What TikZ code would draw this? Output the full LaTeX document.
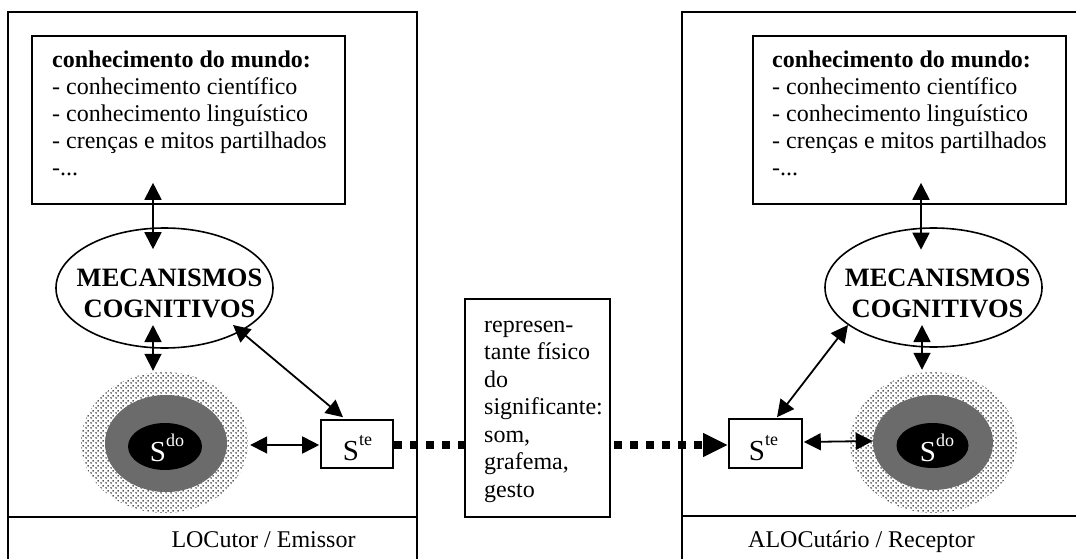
\documentclass[tikz,border=0pt]{standalone}
\usepackage{fontspec}
\setmainfont{Liberation Serif}
\usetikzlibrary{arrows.meta,shapes.geometric,calc,patterns}
\pgfdeclarepatternformonly{sdots}{\pgfqpoint{0pt}{0pt}}{\pgfqpoint{5pt}{5pt}}{\pgfqpoint{5pt}{5pt}}{%
  \pgfpathcircle{\pgfqpoint{1.25pt}{1.25pt}}{1pt}%
  \pgfpathcircle{\pgfqpoint{3.75pt}{3.75pt}}{1pt}%
  \pgfusepath{fill}}
\newcommand\mytxt{\fontsize{24}{27}\selectfont}
\newcommand\mymid{\fontsize{24}{27.5}\selectfont}
\newcommand\mymec{\fontsize{26.5}{31}\selectfont\bfseries}
\newcommand\mylab{\fontsize{24}{27}\selectfont}
\newcommand\bigS[1]{{\fontsize{29}{29}\selectfont S\raisebox{15pt}{\fontsize{18}{18}\selectfont #1}}}
\begin{document}
\begin{tikzpicture}[x=1pt,y=-1pt,
  frame/.style={line width=1.6pt},
  box/.style={draw, line width=1.6pt, inner sep=0pt, rectangle},
  ell/.style={draw, line width=1.6pt, ellipse, inner sep=0pt},
  blob/.style={ellipse, inner sep=0pt},
  txt/.style={inner sep=0pt, align=left},
  dbl/.style={{Triangle[length=17pt,width=17pt]}-{Triangle[length=17pt,width=17pt]}, line width=1.8pt},
  dotline/.style={line width=8pt, dash pattern=on 8pt off 8pt}]
\useasboundingbox (0,0) rectangle (1076,559);
\begin{scope}
\clip (0,0) rectangle (1076,559);
\draw[frame] (8,575) -- (8,12) -- (417,12) -- (417,575);
\draw[frame] (8,517) -- (417,517);
\draw[frame] (682,575) -- (682,12) -- (1095,12);
\draw[frame] (682,516) -- (1095,516);
\end{scope}
% labels
\node[anchor=base, inner sep=0pt, font=\mylab] (labL) at (263.5,547) {LOCutor / Emissor};
\node[anchor=base, inner sep=0pt, font=\mylab] (labR) at (861.5,547) {ALOCutário / Receptor};
% knowledge boxes
\node[box, minimum width=313pt, minimum height=168pt] (kbL) at (188.5,120) {};
\node[txt, anchor=north west, font=\mytxt] (kbLt) at (52,48.1) {\strut\textbf{conhecimento do mundo:}\\- conhecimento científico\\- conhecimento linguístico\\- crenças e mitos partilhados\\-...};
\node[box, minimum width=313pt, minimum height=168pt] (kbR) at (909.5,120) {};
\node[txt, anchor=north west, font=\mytxt] (kbRt) at (772,48.1) {\strut\textbf{conhecimento do mundo:}\\- conhecimento científico\\- conhecimento linguístico\\- crenças e mitos partilhados\\-...};
% ellipses
\node[ell, minimum width=217pt, minimum height=120pt] (mecL) at (164.5,288) {};
\node[inner sep=0pt, align=center, anchor=north, font=\mymec] (mecLt) at (169.5,264.3) {\strut MECANISMOS\\COGNITIVOS};
\node[ell, minimum width=217pt, minimum height=119pt] (mecR) at (933.5,287.5) {};
\node[inner sep=0pt, align=center, anchor=north, font=\mymec] (mecRt) at (937.5,264.3) {\strut MECANISMOS\\COGNITIVOS};
% significado blobs
\node[blob, pattern=sdots, pattern color=black!90, minimum width=167pt, minimum height=141pt] (sdoLo) at (164.5,442.5) {};
\node[blob, fill=black!58, minimum width=122pt, minimum height=97pt] (sdoLg) at (166,443.5) {};
\node[blob, fill=black, minimum width=74pt, minimum height=47pt] (sdoLb) at (165,446.5) {};
\node[anchor=base, inner sep=0pt, text=white] (sdoLt) at (167,461) {\bigS{do}};
\node[blob, pattern=sdots, pattern color=black!90, minimum width=167pt, minimum height=141pt] (sdoRo) at (933.5,442.5) {};
\node[blob, fill=black!58, minimum width=120pt, minimum height=95pt] (sdoRg) at (933,442.5) {};
\node[blob, fill=black, minimum width=72pt, minimum height=45pt] (sdoRb) at (932.5,445.5) {};
\node[anchor=base, inner sep=0pt, text=white] (sdoRt) at (937,461) {\bigS{do}};
% significante boxes
\node[box, fill=white, minimum width=72pt, minimum height=48pt] (SteL) at (357,444) {};
\node[anchor=base, inner sep=0pt] (SteLt) at (357.5,460) {\bigS{te}};
\node[box, fill=white, minimum width=73pt, minimum height=49pt] (SteR) at (765.5,443.5) {};
\node[anchor=base, inner sep=0pt] (SteRt) at (763.5,460) {\bigS{te}};
% middle box
\node[box, minimum width=145pt, minimum height=218pt] (mid) at (537.5,408) {};
\node[txt, anchor=north west, font=\mymid] (midt) at (484,312.75) {\strut represen-\\tante físico\\do\\significante:\\som,\\grafema,\\gesto};
% arrows
\draw[dbl] ($(kbL.south)+(-35.5,-22)$) -- ($(mecL.north)+(-11.5,22)$);
\draw[dbl] ($(kbR.south)+(11.5,-22)$) -- ($(mecR.north)+(-12.5,22.5)$);
\draw[dbl] ($(mecL.center)+(-11.5,37)$) -- ($(sdoLo.north)+(-11.5,-1)$);
\draw[dbl] ($(mecR.center)+(-11.5,37.5)$) -- ($(sdoRo.north)+(-11.5,-2)$);
\draw[dbl] ($(mecL.center)+(68.5,37)$) -- ($(SteL.north)+(-14,-2)$);
\draw[dbl] ($(mecR.center)+(-85.5,37.5)$) -- ($(SteR.north)+(11.5,-1)$);
\draw[dbl] ($(sdoLo.east)+(2,2.5)$) -- ($(SteL.west)+(-1,1)$);
\draw[dbl] ($(SteR.east)+(1,-1.5)$) -- ($(sdoRg.west)+(0,-1.5)$);
% dotted transmission
\draw[dotline] ($(SteL.east)+(0,1)$) -- ($(SteL.east -| mid.west)+(0,1)$);
\draw[dotline, -{Triangle[length=25pt,width=22pt]}] ($(SteR.west -| mid.east)+(3,1.5)$) -- ($(SteR.west)+(0,1.5)$);
\end{tikzpicture}
\end{document}
